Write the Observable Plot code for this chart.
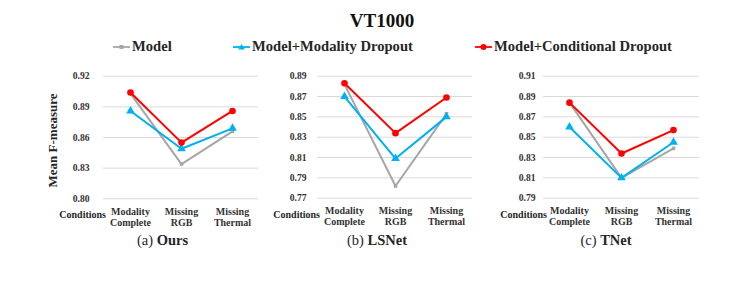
<!DOCTYPE html>
<html>
<head>
<meta charset="utf-8">
<script src="https://cdn.jsdelivr.net/npm/d3@7"></script>
<script src="https://cdn.jsdelivr.net/npm/@observablehq/plot@0.6"></script>
<style>
  body { margin: 0; background: #fff; }
  #root { position: relative; width: 747px; height: 284px; overflow: hidden; font-family: "Liberation Serif", "Times New Roman", serif; color: #262626; }
  .abs { position: absolute; white-space: nowrap; }
  .title { font-weight: bold; font-size: 19px; color: #111; }
  .leg { font-weight: bold; font-size: 14.6px; display: flex; align-items: center; }
  .leg svg { margin-right: 2px; }
  .cond { font-weight: bold; font-size: 10px; text-align: right; }
  .cap { font-size: 14.5px; text-align: center; }
  .cap b { font-weight: bold; }
  .panel { position: absolute; top: 0; }
</style>
</head>
<body>
<div id="root"></div>
<script>
// ---------- data ----------
const conditions = ["Modality Complete", "Missing RGB", "Missing Thermal"];
const conditionLabels = ["Modality\nComplete", "Missing\nRGB", "Missing\nThermal"];
const seriesNames = ["Model", "Model+Modality Dropout", "Model+Conditional Dropout"];

const oursModel       = [0.903, 0.834, 0.866];
const oursModality    = [0.886, 0.849, 0.869];
const oursConditional = [0.904, 0.855, 0.886];

const lsnetModel       = [0.882, 0.782, 0.853];
const lsnetModality    = [0.870, 0.809, 0.850];
const lsnetConditional = [0.883, 0.834, 0.869];

const tnetModel       = [0.884, 0.810, 0.839];
const tnetModality    = [0.860, 0.810, 0.845];
const tnetConditional = [0.884, 0.834, 0.857];

const ticksOurs  = [0.80, 0.83, 0.86, 0.89, 0.92];
const ticksLSNet = [0.77, 0.79, 0.81, 0.83, 0.85, 0.87, 0.89];
const ticksTNet  = [0.79, 0.81, 0.83, 0.85, 0.87, 0.89, 0.91];

// ---------- styles ----------
const colors = ["#a6a6a6", "#00b0f0", "#ff0000"];
const symbols = ["square", "triangle", "circle"];
const radii = [2, 3.2, 3.3];

function toRows(model, modality, conditional) {
  const rows = [];
  [model, modality, conditional].forEach((vals, s) => {
    vals.forEach((v, i) => rows.push({series: seriesNames[s], cond: conditions[i], value: v}));
  });
  return rows;
}

function panel({rows, ticks, left, width, marginLeft, marginRight, plotHeight, tickPadding}) {
  const marks = [
    Plot.ruleY(ticks, {stroke: "#d9d9d9", strokeWidth: 1}),
    Plot.axisY({ticks, tickSize: 0, tickPadding, tickFormat: d3.format(".2f"), label: null, fontSize: 9.6, fontWeight: "bold"}),
    Plot.axisX({tickSize: 0, tickPadding: 8, label: null, fontSize: 10, fontWeight: "bold", lineHeight: 1.1,
      tickFormat: d => conditionLabels[conditions.indexOf(d)]})
  ];
  seriesNames.forEach((name, s) => {
    const data = rows.filter(r => r.series === name);
    marks.push(Plot.line(data, {x: "cond", y: "value", stroke: colors[s], strokeWidth: 2}));
    marks.push(Plot.dot(data, {x: "cond", y: "value", fill: colors[s], stroke: "none", symbol: symbols[s], r: radii[s]}));
  });
  const marginTop = 75.7;
  const height = 232;
  const svg = Plot.plot({
    width, height,
    marginLeft, marginRight, marginTop,
    marginBottom: height - marginTop - plotHeight,
    style: {fontFamily: "'Liberation Serif', 'Times New Roman', serif", color: "#333", background: "transparent", overflow: "visible"},
    x: {type: "point", domain: conditions, padding: 0.5},
    y: {domain: [ticks[0], ticks[ticks.length - 1]]},
    marks
  });
  const wrap = document.createElement("div");
  wrap.className = "panel";
  wrap.style.left = left + "px";
  wrap.appendChild(svg);
  return wrap;
}

const root = document.getElementById("root");

function addDiv(cls, html, style) {
  const d = document.createElement("div");
  d.className = "abs " + cls;
  d.innerHTML = html;
  Object.assign(d.style, style);
  root.appendChild(d);
  return d;
}

// panels
root.appendChild(panel({rows: toRows(oursModel, oursModality, oursConditional), ticks: ticksOurs,
  left: 0, width: 270, marginLeft: 103, marginRight: 12, plotHeight: 122.6, tickPadding: 14}));
root.appendChild(panel({rows: toRows(lsnetModel, lsnetModality, lsnetConditional), ticks: ticksLSNet,
  left: 250, width: 232, marginLeft: 67, marginRight: 10, plotHeight: 122, tickPadding: 11}));
root.appendChild(panel({rows: toRows(tnetModel, tnetModality, tnetConditional), ticks: ticksTNet,
  left: 480, width: 240, marginLeft: 63, marginRight: 21, plotHeight: 122, tickPadding: 8}));

// title
addDiv("title", "VT1000", {left: "332px", width: "100px", textAlign: "center", top: "10px"});

// legend
const legendX = [113, 233, 475];
seriesNames.forEach((name, s) => {
  const sym = s === 0 ? '<rect x="6.5" y="3" width="4" height="4" fill="' + colors[s] + '"/>'
            : s === 1 ? '<path d="M8.5,2 L11.8,7.5 L5.2,7.5 Z" fill="' + colors[s] + '"/>'
            : '<circle cx="8.5" cy="5" r="3" fill="' + colors[s] + '"/>';
  addDiv("leg",
    '<svg width="17" height="10"><line x1="0" y1="5" x2="17" y2="5" stroke="' + colors[s] + '" stroke-width="1.8"/>' + sym + '</svg><span>' + name + '</span>',
    {left: legendX[s] + "px", top: "38px"});
});

// y label (overlay svg text)
const ns = "http://www.w3.org/2000/svg";
const overlay = document.createElementNS(ns, "svg");
overlay.setAttribute("width", 747);
overlay.setAttribute("height", 284);
overlay.style.position = "absolute";
overlay.style.left = "0px";
overlay.style.top = "0px";
overlay.style.pointerEvents = "none";
const yl = document.createElementNS(ns, "text");
yl.setAttribute("transform", "translate(52,140.5) rotate(-90)");
yl.setAttribute("text-anchor", "middle");
yl.setAttribute("dominant-baseline", "central");
yl.setAttribute("font-family", "'Liberation Serif', 'Times New Roman', serif");
yl.setAttribute("font-weight", "bold");
yl.setAttribute("font-size", "13");
yl.setAttribute("fill", "#262626");
yl.textContent = "Mean F-measure";
overlay.appendChild(yl);
root.appendChild(overlay);

// Conditions labels
[106, 320, 547].forEach(r => addDiv("cond", "Conditions", {left: (r - 60) + "px", width: "60px", top: "209px"}));

// captions
const caps = [["(a) ", "Ours", 162.5], ["(b) ", "LSNet", 377], ["(c) ", "TNet", 606]];
caps.forEach(([a, b, cx]) => addDiv("cap", a + "<b>" + b + "</b>", {left: (cx - 60) + "px", width: "120px", top: "232px"}));
</script>
</body>
</html>
